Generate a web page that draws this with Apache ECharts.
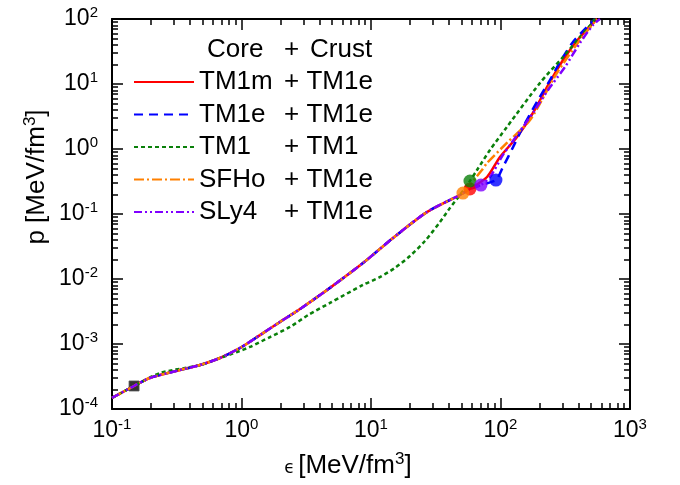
<!DOCTYPE html>
<html>
<head>
<meta charset="utf-8">
<script src="https://cdn.jsdelivr.net/npm/echarts@6/dist/echarts.min.js"></script>
<style>
  html, body { margin: 0; padding: 0; background: #fff; }
  #chart { width: 680px; height: 485px; }
</style>
</head>
<body>
<div id="chart"></div>
<script>
// TM1e crust (shared by every core except TM1), eps [MeV/fm3] vs p [MeV/fm3]
const crustEps = [0.1, 0.148, 0.196, 0.335, 0.479, 0.682, 0.973, 1.39, 1.98, 2.83, 4.82, 8.67, 14.8, 27.0, 48.6, 51.3, 58.1, 70.6, 92.2];
const crustP = [1.48e-4, 2.26e-4, 3.0e-4, 3.98e-4, 4.75e-4, 6.09e-4, 8.68e-4, 1.37e-3, 2.18e-3, 3.45e-3, 7.3e-3, 1.76e-2, 4.28e-2, 0.107, 0.196, 0.21, 0.243, 0.279, 0.333];

// cores, from the crust-core transition upward
const tm1mCoreEps = [78.7, 99.1, 134, 178, 229, 304, 411, 556];
const tm1mCoreP = [0.371, 0.753, 1.53, 3.58, 9.0, 23.4, 52.8, 100];
const tm1eCoreEps = [104.5, 125, 149, 195, 241, 288, 363, 466, 537];
const tm1eCoreP = [0.528, 1.07, 2.18, 5.68, 11.5, 21.8, 44.3, 75.4, 100];
const sfhoCoreEps = [71.9, 78.7, 112, 169, 273, 411, 556];
const sfhoCoreP = [0.475, 0.609, 1.24, 2.79, 14.8, 47.6, 100];
const sly4CoreEps = [83, 104.5, 123, 149, 178, 233, 315, 411, 518, 586];
const sly4CoreP = [0.371, 0.81, 1.28, 2.18, 3.58, 8.1, 18.3, 42.8, 80.9, 100];

// TM1 core + TM1 crust, whole curve
const tm1Eps = [0.1, 0.148, 0.235, 0.479, 0.719, 0.923, 1.16, 1.66, 2.37, 3.27, 4.82, 8.67, 11.7, 15.3, 20.0, 26.1, 34.1, 40.7, 48.6, 58.1, 65.9, 83, 112, 202, 304, 411, 518, 537];
const tm1P = [1.48e-4, 2.26e-4, 3.58e-4, 4.75e-4, 6.31e-4, 7.53e-4, 9.0e-4, 1.28e-3, 1.83e-3, 2.79e-3, 4.28e-3, 8.1e-3, 1.07e-2, 1.48e-2, 2.26e-2, 3.84e-2, 7.53e-2, 0.124, 0.196, 0.322, 0.475, 0.966, 2.18, 10.4, 26.0, 52.8, 90, 100];

// crust-core transition points
const transEps = { 'TM1m': 58.1, 'TM1e': 92.2, 'TM1': 58.1, 'SFHo': 51.3, 'SLy4': 70.6 };
const transP = { 'TM1m': 0.243, 'TM1e': 0.333, 'TM1': 0.322, 'SFHo': 0.21, 'SLy4': 0.279 };
const squarePt = [0.148, 2.26e-4];

const names = ['TM1m', 'TM1e', 'TM1', 'SFHo', 'SLy4'];
const crustName = { 'TM1m': 'TM1e', 'TM1e': 'TM1e', 'TM1': 'TM1', 'SFHo': 'TM1e', 'SLy4': 'TM1e' };
const colors = { 'TM1m': '#ff0000', 'TM1e': '#0000ff', 'TM1': '#0a800a', 'SFHo': '#ff8000', 'SLy4': '#8000ff' };
const dashes = { 'TM1m': 'solid', 'TM1e': [9, 6], 'TM1': [4, 3], 'SFHo': [10, 3, 2, 3], 'SLy4': [8, 3, 2, 3, 2, 3] };

const xMajor = [0.1, 1, 10, 100, 1000];
const yMajor = [1e-4, 1e-3, 1e-2, 1e-1, 1, 10, 100];

function minors(k0, k1) {
  let out = [];
  for (let k = k0; k < k1; k++) {
    for (let m = 2; m <= 9; m++) out.push(Number((m * Math.pow(10, k)).toPrecision(3)));
  }
  return out;
}
const xMinor = minors(-1, 3);
const yMinor = minors(-4, 2);

function withCrust(name, coreEps, coreP) {
  let pts = [];
  crustEps.forEach((e, i) => { if (e <= transEps[name]) pts.push([e, crustP[i]]); });
  coreEps.forEach((e, i) => pts.push([e, coreP[i]]));
  return pts;
}

const curves = {
  'TM1m': withCrust('TM1m', tm1mCoreEps, tm1mCoreP),
  'TM1e': withCrust('TM1e', tm1eCoreEps, tm1eCoreP),
  'TM1': tm1Eps.map((e, i) => [e, tm1P[i]]),
  'SFHo': withCrust('SFHo', sfhoCoreEps, sfhoCoreP),
  'SLy4': withCrust('SLy4', sly4CoreEps, sly4CoreP),
};

const FONT = 'Liberation Sans, Arial, sans-serif';
const supRich = {
  b: { fontSize: 23, fontFamily: FONT, color: '#000' },
  s: { fontSize: 15, fontFamily: FONT, color: '#000', padding: [0, 0, 13, 0] },
};
const expLabel = (v) => '{b|10}{s|' + Math.round(Math.log10(v)) + '}';

function xAx(pos, ticks, len, label) {
  return {
    type: 'log', logBase: 10, min: 0.1, max: 1000, position: pos,
    axisLine: { show: len > 8, onZero: false, lineStyle: { color: '#000', width: 2 } },
    axisTick: { show: true, inside: true, length: len, customValues: ticks, lineStyle: { color: '#000', width: 1.5 } },
    axisLabel: label ? { customValues: xMajor, formatter: expLabel, rich: supRich, margin: 8 } : { show: false },
    splitLine: { show: false }, minorTick: { show: false },
  };
}
function yAx(pos, ticks, len, label) {
  return {
    type: 'log', logBase: 10, min: 1e-4, max: 100, position: pos,
    axisLine: { show: len > 8, onZero: false, lineStyle: { color: '#000', width: 2 } },
    axisTick: { show: true, inside: true, length: len, customValues: ticks, lineStyle: { color: '#000', width: 1.5 } },
    axisLabel: label ? { customValues: yMajor, formatter: expLabel, rich: supRich, margin: 14 } : { show: false },
    splitLine: { show: false }, minorTick: { show: false },
  };
}

let series = [];
// black square (start of curves), drawn under the lines
series.push({
  type: 'scatter', name: 'start', z: 1, symbol: 'rect', symbolSize: 10,
  itemStyle: { color: '#000', borderColor: '#555', borderWidth: 1 },
  data: [squarePt],
});
names.forEach((n) => {
  series.push({
    type: 'line', name: n, z: 2, symbol: 'none', smooth: 0.25,
    lineStyle: { color: colors[n], width: 2.5, type: dashes[n] },
    itemStyle: { color: colors[n] },
    data: curves[n],
  });
});
['TM1m', 'TM1', 'SFHo', 'SLy4', 'TM1e'].forEach((n) => {
  series.push({
    type: 'scatter', name: n + ' transition', z: 3, symbol: 'circle', symbolSize: 13,
    itemStyle: { color: colors[n] },
    data: [[transEps[n], transP[n]]],
  });
});

const option = {
  animation: false,
  backgroundColor: '#fff',
  textStyle: { fontFamily: FONT },
  grid: { left: 112, right: 50, top: 19, bottom: 76, containLabel: false },
  xAxis: [
    xAx('bottom', xMajor, 11, true),
    xAx('bottom', xMinor, 6, false),
    xAx('top', xMajor, 11, false),
    xAx('top', xMinor, 6, false),
  ],
  yAxis: [
    yAx('left', yMajor, 11, true),
    yAx('left', yMinor, 6, false),
    yAx('right', yMajor, 11, false),
    yAx('right', yMinor, 6, false),
  ],
  legend: {
    data: names, orient: 'vertical', left: 133, top: 69, padding: 0,
    itemWidth: 60, itemHeight: 14, itemGap: 6.5, selectedMode: false,
    itemStyle: { opacity: 0 },
    formatter: (n) => '{a|' + n + '}{c|+ ' + crustName[n] + '}',
    textStyle: {
      color: '#000', fontSize: 26, fontFamily: FONT,
      rich: {
        a: { width: 85, fontSize: 26, fontFamily: FONT, color: '#000' },
        c: { fontSize: 26, fontFamily: FONT, color: '#000' },
      },
    },
  },
  graphic: [
    { type: 'text', left: 207, top: 37, style: { text: 'Core', font: '26px ' + FONT, fill: '#000' } },
    { type: 'text', left: 284, top: 37, style: { text: '+', font: '26px ' + FONT, fill: '#000' } },
    { type: 'text', left: 310, top: 37, style: { text: 'Crust', font: '26px ' + FONT, fill: '#000' } },
    {
      type: 'text', x: 37, y: 177, rotation: Math.PI / 2,
      style: {
        text: '{b|p [MeV/fm}{s|3}{b|]}', align: 'center', verticalAlign: 'middle',
        rich: { b: { fontSize: 26, fontFamily: FONT, fill: '#000' }, s: { fontSize: 17, fontFamily: FONT, fill: '#000', padding: [0, 0, 13, 0] } },
      },
    },
    {
      type: 'text', x: 348, y: 466,
      style: {
        text: '{e|ϵ} {b|[MeV/fm}{s|3}{b|]}', align: 'center', verticalAlign: 'middle',
        rich: {
          e: { fontSize: 17, fontFamily: 'DejaVu Sans', fill: '#000', padding: [6, 0, 0, 0] },
          b: { fontSize: 26, fontFamily: FONT, fill: '#000' },
          s: { fontSize: 17, fontFamily: FONT, fill: '#000', padding: [0, 0, 13, 0] },
        },
      },
    },
  ],
  series: series,
};

const chart = echarts.init(document.getElementById('chart'));
chart.setOption(option);
</script>
</body>
</html>
